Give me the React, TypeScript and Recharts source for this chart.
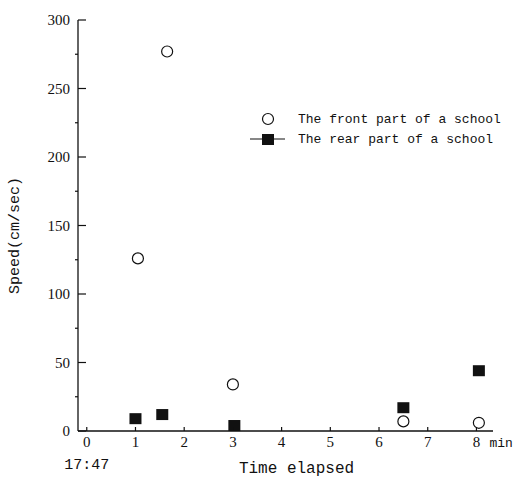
import React from 'react';
import { ScatterChart, Scatter, XAxis, YAxis, Label } from 'recharts';

// elapsed minutes after 17:47
const frontTime = [1.05, 1.65, 3.0, 6.5, 8.05];
const frontSpeed = [126, 277, 34, 7, 6];
const rearTime = [1.0, 1.55, 3.03, 6.5, 8.05];
const rearSpeed = [9, 12, 4, 17, 44];

const xTicks = [0, 1, 2, 3, 4, 5, 6, 7, 8];
const yTicks = [0, 25, 50, 75, 100, 125, 150, 175, 200, 225, 250, 275, 300];
const seriesNames = ['The front part of a school', 'The rear part of a school'];

const frontData = frontTime.map((t, i) => ({ x: t, y: frontSpeed[i] }));
const rearData = rearTime.map((t, i) => ({ x: t, y: rearSpeed[i] }));

const INK = '#111';
const SERIF = '"Liberation Serif", serif';
const MONO = '"Liberation Mono", monospace';

const YTick = (props: any) => {
  const { x, y, payload } = props;
  const major = payload.value % 50 === 0;
  return (
    <g>
      {major ? (
        <line x1={x} x2={x + 8} y1={y} y2={y} stroke={INK} strokeWidth={1.2} />
      ) : (
        <line x1={x - 3} x2={x} y1={y} y2={y} stroke={INK} strokeWidth={1.2} />
      )}
      {major && (
        <text x={x - 8} y={y + 5} textAnchor="end" fontFamily={SERIF} fontSize={15} fill={INK}>
          {payload.value}
        </text>
      )}
    </g>
  );
};

const XTick = (props: any) => {
  const { x, y, payload } = props;
  return (
    <g>
      <line x1={x} x2={x} y1={y} y2={y - 4} stroke={INK} strokeWidth={1.2} />
      <text x={x} y={y + 16} textAnchor="middle" fontFamily={SERIF} fontSize={15} fill={INK}>
        {payload.value}
      </text>
      {payload.value === 8 && (
        <text x={x + 13} y={y + 16} fontFamily={MONO} fontSize={13} fill={INK}>
          min
        </text>
      )}
      {payload.value === 0 && (
        <text x={x} y={y + 38} textAnchor="middle" fontFamily={MONO} fontSize={15} fill={INK}>
          17:47
        </text>
      )}
    </g>
  );
};

const OpenCircle = (props: any) => (
  <circle cx={props.cx} cy={props.cy} r={5.5} fill="#fff" stroke={INK} strokeWidth={1.2} />
);

const FilledSquare = (props: any) => (
  <rect x={props.cx - 6} y={props.cy - 5.5} width={12} height={11} fill={INK} />
);

const SchoolLegend = () => (
  <svg width={260} height={40} style={{ position: 'absolute', left: 250, top: 110 }}>
    <circle cx={18} cy={9} r={5.5} fill="#fff" stroke={INK} strokeWidth={1.2} />
    <text x={48} y={13} fontFamily={MONO} fontSize={13} fill={INK}>
      {seriesNames[0]}
    </text>
    <line x1={0} x2={35} y1={29} y2={29} stroke={INK} strokeWidth={1.2} />
    <rect x={12} y={24} width={12} height={11} fill={INK} />
    <text x={48} y={33} fontFamily={MONO} fontSize={13} fill={INK}>
      {seriesNames[1]}
    </text>
  </svg>
);

export default function App() {
  return (
    <div style={{ position: 'absolute', left: 0, top: 0, width: 519, height: 478, background: '#fff' }}>
      <ScatterChart width={519} height={478} margin={{ top: 20, right: 26, left: 0, bottom: 0 }}>
        <XAxis
          type="number"
          dataKey="x"
          domain={[-0.18, 8.34]}
          ticks={xTicks}
          allowDataOverflow
          height={47}
          tickSize={0}
          tickMargin={0}
          tick={<XTick />}
          axisLine={{ stroke: INK, strokeWidth: 1.3 }}
        >
          <Label
            value="Time elapsed"
            position="insideBottom"
            offset={5}
            dx={11}
            style={{ fontFamily: MONO, fontSize: 16, fill: INK }}
          />
        </XAxis>
        <YAxis
          type="number"
          dataKey="y"
          domain={[0, 300]}
          ticks={yTicks}
          width={78}
          tickSize={0}
          tickMargin={0}
          tick={<YTick />}
          axisLine={{ stroke: INK, strokeWidth: 1.3 }}
        >
          <Label
            value="Speed(cm/sec)"
            angle={-90}
            position="insideLeft"
            offset={14}
            dy={10}
            style={{ fontFamily: MONO, fontSize: 15, fill: INK, textAnchor: 'middle' }}
          />
        </YAxis>
        <Scatter name={seriesNames[0]} data={frontData} shape={<OpenCircle />} isAnimationActive={false} />
        <Scatter name={seriesNames[1]} data={rearData} shape={<FilledSquare />} isAnimationActive={false} />
      </ScatterChart>
      <SchoolLegend />
    </div>
  );
}
